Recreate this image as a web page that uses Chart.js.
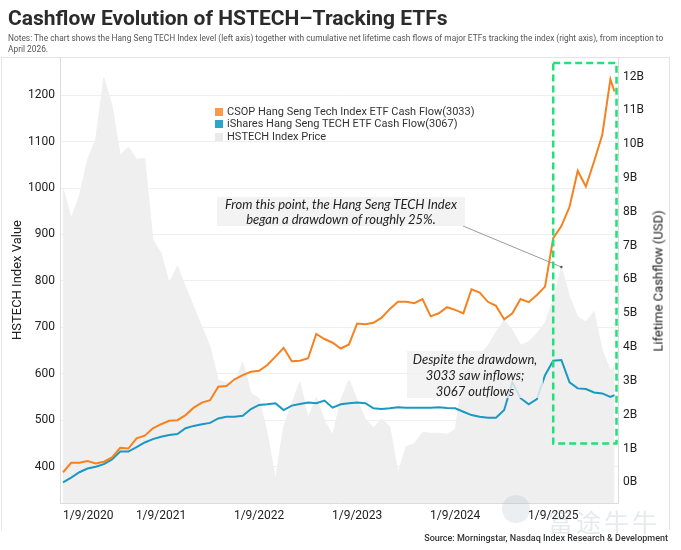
<!DOCTYPE html>
<html lang="en">
<head>
<meta charset="utf-8">
<title>Cashflow Evolution of HSTECH–Tracking ETFs</title>
<script src="https://cdn.jsdelivr.net/npm/chart.js@4.4.1/dist/chart.umd.min.js"></script>
<style>
  html, body { margin: 0; padding: 0; background: #fff; }
  #page { position: relative; width: 681px; height: 550px; overflow: hidden; font-family: Roboto, "Noto Sans", sans-serif; color: #222; }
  #frame { position: absolute; left: 1px; top: 57px; width: 667px; height: 472px; border: 1px solid #e4e4e4; border-bottom: none; }
  #chart { position: absolute; left: 0; top: 0; }
  #title { position: absolute; left: 8px; top: 6px; font-size: 21px; font-weight: 700; color: #2b2b2b; white-space: nowrap; }
  #notes { position: absolute; left: 8px; top: 33px; font-size: 8.35px; line-height: 10.5px; color: #555; white-space: nowrap; }
  #legend { position: absolute; left: 215px; top: 106px; font-size: 11px; line-height: 12.3px; color: #333; }
  #legend div { display: flex; align-items: center; white-space: nowrap; }
  #legend span { display: inline-block; width: 8px; height: 8px; margin-right: 4px; }
  .note { position: absolute; background: rgba(240, 240, 240, 0.82); font-family: Lato, sans-serif; font-style: italic; font-size: 13px; color: #222; text-align: center; white-space: nowrap; }
  #note-drawdown { left: 217px; top: 197px; width: 248px; height: 29px; line-height: 14.5px; }
  #note-flows { left: 407px; top: 351px; width: 136px; height: 47px; line-height: 16px; }
  #y2-title { position: absolute; left: 658px; top: 281px; transform: translate(-50%, -50%) rotate(-90deg); font-size: 13px; color: #222; white-space: nowrap; }
  #source { position: absolute; right: 13px; top: 533px; font-size: 9px; font-weight: 500; color: #333; white-space: nowrap; }
  #watermark { position: absolute; left: 548px; top: 503px; font-family: "Noto Sans CJK SC", sans-serif; font-size: 25px; letter-spacing: 3px; color: rgba(170, 180, 190, 0.28); white-space: nowrap; }
  #watermark-logo { position: absolute; left: 502px; top: 495px; width: 28px; height: 28px; border-radius: 50%; background: rgba(170, 180, 190, 0.22); }
</style>
</head>
<body>
<div id="page">
  <div id="frame"></div>
  <canvas id="chart" width="681" height="550"></canvas>
  <div id="title">Cashflow Evolution of HSTECH–Tracking ETFs</div>
  <div id="notes">Notes: The chart shows the Hang Seng TECH Index level (left axis) together with cumulative net lifetime cash flows of major ETFs tracking the index (right axis), from inception to<br>April 2026.</div>
  <div id="legend"></div>
  <div class="note" id="note-drawdown">From this point, the Hang Seng TECH Index<br>began a drawdown of roughly 25%.</div>
  <div class="note" id="note-flows">Despite the drawdown,<br>3033 saw inflows;<br>3067 outflows</div>
  <div id="y2-title">Lifetime Cashflow (USD)</div>
  <div id="watermark-logo"></div>
  <div id="watermark">富途牛牛</div>
  <div id="source">Source: Morningstar, Nasdaq Index Research &amp; Development</div>
</div>
<script>
// monthly observations, last one is mid-April 2026
const dates = [
  "2020-09", "2020-10", "2020-11", "2020-12",
  "2021-01", "2021-02", "2021-03", "2021-04", "2021-05", "2021-06", "2021-07", "2021-08", "2021-09", "2021-10", "2021-11", "2021-12",
  "2022-01", "2022-02", "2022-03", "2022-04", "2022-05", "2022-06", "2022-07", "2022-08", "2022-09", "2022-10", "2022-11", "2022-12",
  "2023-01", "2023-02", "2023-03", "2023-04", "2023-05", "2023-06", "2023-07", "2023-08", "2023-09", "2023-10", "2023-11", "2023-12",
  "2024-01", "2024-02", "2024-03", "2024-04", "2024-05", "2024-06", "2024-07", "2024-08", "2024-09", "2024-10", "2024-11", "2024-12",
  "2025-01", "2025-02", "2025-03", "2025-04", "2025-05", "2025-06", "2025-07", "2025-08", "2025-09", "2025-10", "2025-11", "2025-12",
  "2026-01", "2026-02", "2026-03", "2026-04", "2026-04-16"
];

const tickLabels = ["1/9/2020", "1/9/2021", "1/9/2022", "1/9/2023", "1/9/2024", "1/9/2025"];

// HSTECH index level (left axis)
const hstechIndex = [
  1000, 935, 983, 1060, 1105, 1237, 1178, 1071, 1088, 1062, 1064, 888,
  860, 795, 832, 787, 744, 701, 658, 587, 580, 578, 626, 558,
  547, 472, 373, 486, 536, 583, 506, 549, 500, 468, 544, 587,
  544, 503, 484, 503, 486, 387, 443, 450, 474, 472, 472, 470,
  480, 600, 610, 640, 660, 690, 716, 694, 662, 669, 687, 710,
  760, 830, 766, 723, 712, 734, 651, 608, 615
];

// cumulative net flows, USD billions (right axis)
const csopFlow = [
  0.30, 0.58, 0.58, 0.63, 0.56, 0.61, 0.74, 1.02, 1.00, 1.30, 1.38, 1.60,
  1.72, 1.82, 1.84, 1.99, 2.21, 2.36, 2.43, 2.83, 2.85, 3.05, 3.17, 3.27,
  3.30, 3.47, 3.72, 3.98, 3.58, 3.60, 3.67, 4.39, 4.24, 4.13, 3.96, 4.08,
  4.70, 4.68, 4.72, 4.87, 5.13, 5.34, 5.34, 5.30, 5.42, 4.91, 5.00, 5.18,
  5.10, 5.00, 5.71, 5.61, 5.34, 5.22, 4.82, 5.00, 5.42, 5.33, 5.54, 5.79,
  7.22, 7.58, 8.15, 9.21, 8.75, 9.49, 10.27, 11.92, 11.56
];

const isharesFlow = [
  0.00, 0.14, 0.30, 0.41, 0.46, 0.54, 0.68, 0.91, 0.91, 1.04, 1.18, 1.28,
  1.35, 1.40, 1.43, 1.60, 1.67, 1.72, 1.76, 1.89, 1.94, 1.94, 1.97, 2.17,
  2.29, 2.31, 2.34, 2.14, 2.27, 2.32, 2.36, 2.34, 2.42, 2.21, 2.31, 2.34,
  2.36, 2.34, 2.19, 2.17, 2.19, 2.22, 2.21, 2.21, 2.21, 2.21, 2.22, 2.20,
  2.19, 2.09, 1.99, 1.94, 1.91, 1.91, 2.14, 2.96, 2.49, 2.31, 2.46, 3.17,
  3.60, 3.62, 2.96, 2.78, 2.76, 2.66, 2.63, 2.53, 2.58
];

const seriesNames = [
  "CSOP Hang Seng Tech Index ETF Cash Flow(3033)",
  "iShares Hang Seng TECH ETF Cash Flow(3067)",
  "HSTECH Index Price"
];
const lineColors = ["#f5821f", "#1b98c2", "#efefef"];
const swatchColors = ["#fb9a4b", "#2aa5cc", "#e9e9e9"];

const drawdownStart = "2025-10";
const highlightFrom = "1/9/2025";
const highlightRange = [1.15, 12.4];

const select = (selector) => document.querySelector(selector);

// months since Sep 2020, days as fraction
const toIndex = (iso) => {
  const [y, m, d = 1] = iso.split("-").map(Number);
  return (y - 2020) * 12 + (m - 9) + (d - 1) / 30;
};
const tickIndex = (label) => {
  const [d, m, y] = label.split("/").map(Number);
  return (y - 2020) * 12 + (m - 9) + (d - 1) / 30;
};
const toPoints = (values) => values.map((v, i) => ({ x: toIndex(dates[i]), y: v }));

const renderLegend = () => {
  const legend = select("#legend");
  seriesNames.forEach((name, i) => {
    const row = document.createElement("div");
    row.innerHTML = `<span style="background:${swatchColors[i]}"></span>${name}`;
    legend.appendChild(row);
  });
};

const annotations = {
  id: "annotations",
  afterDatasetsDraw(chart) {
    const { ctx, scales, chartArea } = chart;
    const { x, y, y2 } = scales;

    // leader from the note to the index peak
    const peakIdx = dates.indexOf(drawdownStart);
    const px = x.getPixelForValue(toIndex(drawdownStart));
    const py = y.getPixelForValue(hstechIndex[peakIdx]);
    ctx.save();
    ctx.strokeStyle = "#9a9a9a";
    ctx.lineWidth = 1;
    ctx.beginPath();
    ctx.moveTo(463, 226);
    ctx.lineTo(px, py);
    ctx.stroke();
    ctx.fillStyle = "#555";
    ctx.beginPath();
    ctx.arc(px, py, 1.2, 0, Math.PI * 2);
    ctx.fill();

    // dashed highlight of the latest period
    const left = x.getPixelForValue(tickIndex(highlightFrom));
    const right = chartArea.right - 1.5;
    const top = y2.getPixelForValue(highlightRange[1]);
    const bottom = y2.getPixelForValue(highlightRange[0]);
    ctx.strokeStyle = "#22e07a";
    ctx.lineWidth = 2.5;
    ctx.setLineDash([7, 4]);
    ctx.strokeRect(left, top, right - left, bottom - top);
    ctx.restore();
  }
};

const renderChart = () => {
  Chart.defaults.font.family = "Roboto, sans-serif";
  Chart.defaults.color = "#222";

  new Chart(select("#chart"), {
    type: "line",
    data: {
      datasets: [
        {
          label: seriesNames[0],
          data: toPoints(csopFlow),
          yAxisID: "y2",
          borderColor: lineColors[0],
          borderWidth: 2,
          pointRadius: 0,
          tension: 0,
          fill: false
        },
        {
          label: seriesNames[1],
          data: toPoints(isharesFlow),
          yAxisID: "y2",
          borderColor: lineColors[1],
          borderWidth: 2,
          pointRadius: 0,
          tension: 0,
          fill: false
        },
        {
          label: seriesNames[2],
          data: toPoints(hstechIndex),
          yAxisID: "y",
          borderColor: lineColors[2],
          backgroundColor: lineColors[2],
          borderWidth: 1,
          pointRadius: 0,
          tension: 0,
          fill: "start"
        }
      ]
    },
    options: {
      responsive: false,
      animation: false,
      devicePixelRatio: 1,
      layout: { padding: { top: 57, bottom: 17, left: 0, right: 0 } },
      plugins: {
        legend: { display: false },
        tooltip: { enabled: false }
      },
      scales: {
        x: {
          type: "linear",
          min: -0.37,
          max: 67.93,
          afterBuildTicks: (scale) => {
            scale.ticks = tickLabels.map((label) => ({ value: tickIndex(label) }));
            scale.ticks.push({ value: scale.max });
          },
          afterFit: (scale) => { scale.height = 30; },
          ticks: {
            autoSkip: false,
            maxRotation: 0,
            align: "inner",
            padding: 6,
            font: { size: 12 },
            color: "#222",
            callback: (value, i) => tickLabels[i] ?? ""
          },
          grid: { display: false, drawTicks: false },
          border: { display: true, color: "#dcdcdc" }
        },
        y: {
          position: "left",
          min: 322,
          max: 1282,
          afterFit: (scale) => { scale.width = 60; },
          ticks: {
            stepSize: 100,
            includeBounds: false,
            padding: 5,
            font: { size: 12 },
            color: "#222",
            callback: (value) => String(value)
          },
          grid: { color: "#efefef", drawTicks: false },
          border: { display: true, color: "#dcdcdc" },
          title: {
            display: true,
            text: "HSTECH Index Value",
            font: { size: 13 },
            color: "#222",
            padding: { top: 10, bottom: 0 }
          }
        },
        y2: {
          position: "right",
          min: -0.61,
          max: 12.58,
          afterFit: (scale) => { scale.width = 63; },
          ticks: {
            stepSize: 1,
            includeBounds: false,
            padding: 5,
            font: { size: 12 },
            color: "#222",
            callback: (value) => `${value}B`
          },
          grid: { display: false, drawTicks: false },
          border: { display: true, color: "#dcdcdc" }
        }
      }
    },
    plugins: [annotations]
  });
};

renderLegend();
renderChart();
</script>
</body>
</html>
